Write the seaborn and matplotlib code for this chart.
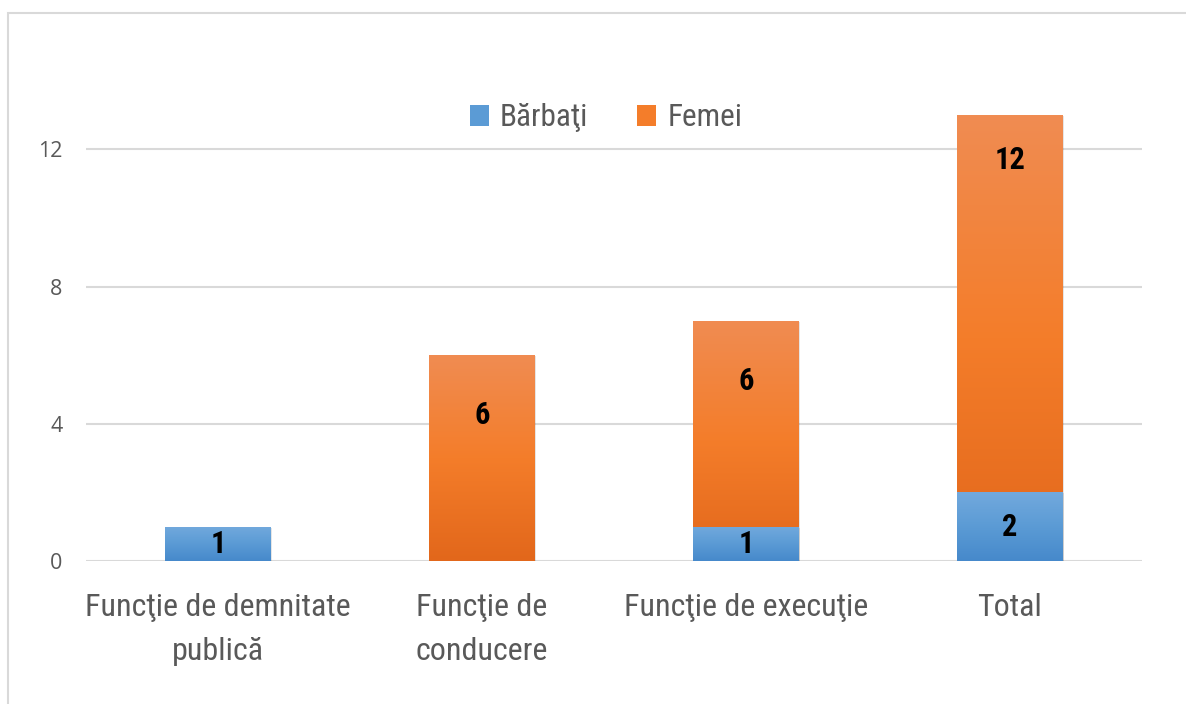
import numpy as np
import pandas as pd
import matplotlib
matplotlib.use("Agg")
import matplotlib.pyplot as plt
import seaborn as sns
from matplotlib import font_manager
from matplotlib.patches import Rectangle, Patch
from matplotlib.colors import LinearSegmentedColormap

categories = ["Funcţie de demnitate\npublică", "Funcţie de\nconducere", "Funcţie de execuţie", "Total"]
barbati = [1, 0, 1, 2]
femei = [0, 6, 6, 12]
series_names = ["Bărbaţi", "Femei"]
yticks = [0, 4, 8, 12]
ymax = 13

sns.set_theme(style="white")
avail = {f.name for f in font_manager.fontManager.ttflist}
cond = next((f for f in ["Roboto Condensed", "Liberation Sans Narrow", "DejaVu Sans"] if f in avail), "DejaVu Sans")
num_font = "Open Sans" if "Open Sans" in avail else "DejaVu Sans"
plt.rcParams["font.family"] = [cond, "DejaVu Sans"]

W, H = 1186, 704
fig = plt.figure(figsize=(W / 100, H / 100), dpi=100)
ax = fig.add_axes([86 / W, 1 - 561 / H, (1142 - 86) / W, (561 - 115) / H])

df = pd.DataFrame({"cat": categories, "b": barbati, "f": femei})
df["tot"] = df["b"] + df["f"]

sns.barplot(data=df, x="cat", y="tot", color="#F47D2A", width=0.40, ax=ax, zorder=3, saturation=1)
n_or = len(ax.patches)
sns.barplot(data=df, x="cat", y="b", color="#5B9BD5", width=0.40, ax=ax, zorder=4, saturation=1)
or_patches = ax.patches[:n_or]
bl_patches = ax.patches[n_or:]

ax.set_ylim(0, ymax)
ax.set_xlim(-0.5, len(categories) - 0.5)

orange_cmap = LinearSegmentedColormap.from_list("o", ["#E2671B", "#F47D2A", "#F08C52"])
blue_cmap = LinearSegmentedColormap.from_list("b", ["#4689CB", "#5B9BD5", "#72A9DD"])
grad = np.linspace(0, 1, 256).reshape(-1, 1)

def gradient_fill(p, cmap, z):
    x0 = p.get_x(); w = p.get_width()
    y0 = p.get_y(); h = p.get_height()
    if h <= 0:
        p.set_visible(False)
        return
    y1 = min(y0 + h, ymax)
    im = ax.imshow(grad, cmap=cmap, origin="lower", aspect="auto",
                   extent=[x0, x0 + w, y0, y1], zorder=z, interpolation="bilinear")
    im.set_clip_path(p)
    sh = Rectangle((x0 + 0.006, y0 - 0.03), w, y1 - y0, facecolor="#000000", alpha=0.10,
                   edgecolor="none", zorder=z - 0.5)
    ax.add_patch(sh)
    p.set_facecolor("none")
    p.set_edgecolor("none")

for p, v in zip(or_patches, femei):
    if v == 0:
        p.set_visible(False)
        continue
    gradient_fill(p, orange_cmap, 3)
for p in bl_patches:
    gradient_fill(p, blue_cmap, 4)

ax.set_xlim(-0.5, len(categories) - 0.5)
ax.set_ylim(0, ymax)

for p, bv, fv in zip(bl_patches, barbati, femei):
    xc = p.get_x() + p.get_width() / 2
    if bv > 0:
        ax.text(xc, bv / 2, str(bv), ha="center", va="center", fontsize=22, fontweight="bold",
                color="black", zorder=6, family=[cond, "DejaVu Sans"])
    if fv > 0:
        top = bv + fv
        off = -60 if top <= ymax else -45
        ax.annotate(str(fv), (xc, min(top, ymax)), xytext=(0, off * 0.72), textcoords="offset points",
                    ha="center", va="center", fontsize=22, fontweight="bold", color="black", zorder=6,
                    family=[cond, "DejaVu Sans"])

ax.set_yticks(yticks)
ax.set_yticklabels([str(t) for t in yticks], fontsize=15.5, color="#595959", family=[num_font, "DejaVu Sans"])
ax.set_xticks(range(len(categories)))
ax.set_xticklabels(categories, fontsize=23, color="#595959", linespacing=1.65)
ax.tick_params(axis="y", length=0, pad=17)
ax.tick_params(axis="x", length=0, pad=23)
ax.set_xlabel("")
ax.set_ylabel("")
ax.grid(axis="y", color="#D9D9D9", linewidth=1.5, zorder=0)
ax.set_axisbelow(True)
for s in ax.spines.values():
    s.set_visible(False)

handles = [Patch(facecolor="#5B9BD5", edgecolor="none"), Patch(facecolor="#F47D2A", edgecolor="none")]
leg = fig.legend(handles, series_names, loc="center", bbox_to_anchor=(606 / W, 1 - 118 / H), ncol=2,
                 frameon=False, fontsize=22.5, handlelength=0.62, handleheight=0.62, handletextpad=0.35,
                 columnspacing=1.55)
for t in leg.get_texts():
    t.set_color("#595959")

fig.patches.append(Rectangle((8 / W, 1 - 720 / H), (1200 - 8) / W, (720 - 13) / H,
                             transform=fig.transFigure, fill=False, edgecolor="#D9D9D9", linewidth=1.5))

fig.savefig("out.png", dpi=100)
